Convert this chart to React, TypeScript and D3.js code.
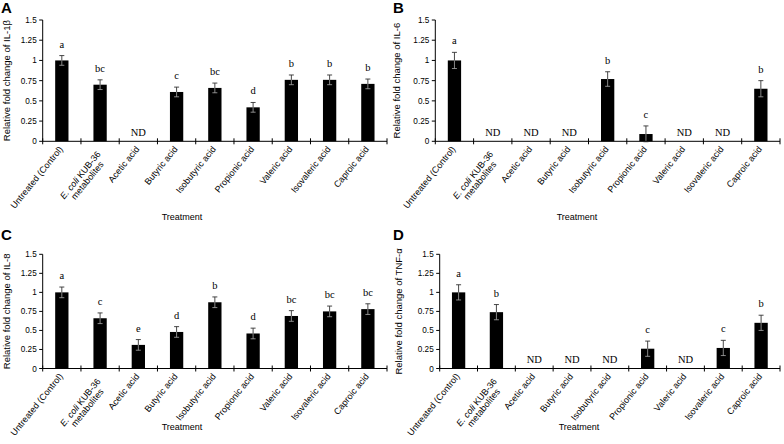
import React from "react";
import * as d3 from "d3";

const categories = [
  "Untreated (Control)",
  "E. coli KUB-36 metabolites",
  "Acetic acid",
  "Butyric acid",
  "Isobutyric acid",
  "Propionic acid",
  "Valeric acid",
  "Isovaleric acid",
  "Caproic acid",
];
const yTicks = [0, 0.25, 0.5, 0.75, 1, 1.25, 1.5];
const yTickLabels = ["0", "0.25", "0.5", "0.75", "1", "1.25", "1.5"];

// null = not detected (ND)
const il1bValues = [1.0, 0.7, null, 0.61, 0.66, 0.42, 0.76, 0.76, 0.71];
const il1bErrors = [0.06, 0.06, 0, 0.06, 0.06, 0.06, 0.06, 0.06, 0.06];
const il1bLetters = ["a", "bc", "ND", "c", "bc", "d", "b", "b", "b"];

const il6Values = [1.0, null, null, null, 0.77, 0.09, null, null, 0.65];
const il6Errors = [0.1, 0, 0, 0, 0.09, 0.1, 0, 0, 0.1];
const il6Letters = ["a", "ND", "ND", "ND", "b", "c", "ND", "ND", "b"];

const il8Values = [1.0, 0.66, 0.31, 0.48, 0.87, 0.46, 0.69, 0.75, 0.78];
const il8Errors = [0.07, 0.07, 0.07, 0.07, 0.07, 0.07, 0.07, 0.07, 0.07];
const il8Letters = ["a", "c", "e", "d", "b", "d", "bc", "bc", "bc"];

const tnfValues = [1.0, 0.74, null, null, null, 0.26, null, 0.27, 0.6];
const tnfErrors = [0.1, 0.1, 0, 0, 0, 0.1, 0, 0.1, 0.1];
const tnfLetters = ["a", "b", "ND", "ND", "ND", "c", "ND", "c", "b"];

const SANS = "'Liberation Sans', Arial, sans-serif";
const SERIF = "'Liberation Serif', 'Times New Roman', serif";

type PanelProps = {
  letter: string;
  letterX: number;
  letterY: number;
  yLabel: string;
  yLabelX: number;
  x0: number;
  x1: number;
  yTop: number;
  yBottom: number;
  treatX: number;
  treatY: number;
  values: (number | null)[];
  errors: number[];
  letters: string[];
};

function Panel(p: PanelProps) {
  const x = d3.scaleBand<string>().domain(categories).range([p.x0, p.x1]).paddingInner(0).paddingOuter(0);
  const y = d3.scaleLinear().domain([0, 1.5]).range([p.yBottom, p.yTop]);
  const bw = 13.3;
  const step = x.step();
  const y0 = y(0);
  const angle = -51;
  return (
    <g>
      <text x={p.letterX} y={p.letterY} fontFamily={SANS} fontWeight="bold" fontSize={15}>
        {p.letter}
      </text>
      <text
        transform={`translate(${p.yLabelX},${(y(0) + y(1.5)) / 2}) rotate(-90)`}
        textAnchor="middle"
        fontFamily={SANS}
        fontSize={9.5}
      >
        {p.yLabel}
      </text>
      {/* y axis */}
      <line x1={p.x0} x2={p.x0} y1={y(0)} y2={y(1.5)} stroke="#000" strokeWidth={1} />
      {yTicks.map((t, i) => (
        <g key={"yt" + i}>
          <line x1={p.x0 - 3.5} x2={p.x0} y1={y(t)} y2={y(t)} stroke="#000" />
          <text x={p.x0 - 6} y={y(t) + 3} textAnchor="end" fontFamily={SANS} fontSize={8.2}>
            {yTickLabels[i]}
          </text>
        </g>
      ))}
      {/* bars */}
      {categories.map((c, i) => {
        const v = p.values[i];
        const cx = (x(c) as number) + step / 2;
        if (v === null) return null;
        const e = p.errors[i];
        return (
          <g key={"b" + i}>
            <rect x={cx - bw / 2} y={y(v)} width={bw} height={y0 - y(v)} fill="#000" />
            <line x1={cx} x2={cx} y1={y(v - e)} y2={y(v)} stroke="#aaa" strokeWidth={0.8} />
            <line x1={cx - 2.5} x2={cx + 2.5} y1={y(v - e)} y2={y(v - e)} stroke="#aaa" strokeWidth={0.8} />
            <line x1={cx} x2={cx} y1={y(v)} y2={y(v + e)} stroke="#333" strokeWidth={0.9} />
            <line x1={cx - 2.5} x2={cx + 2.5} y1={y(v + e)} y2={y(v + e)} stroke="#333" strokeWidth={0.9} />
          </g>
        );
      })}
      {/* significance letters */}
      {categories.map((c, i) => {
        const v = p.values[i];
        const cx = (x(c) as number) + step / 2;
        const ty = v === null ? y0 - 5.5 : y(v + p.errors[i]) - 8;
        return (
          <text key={"l" + i} x={cx} y={ty} textAnchor="middle" fontFamily={SERIF} fontSize={10.5}>
            {p.letters[i]}
          </text>
        );
      })}
      {/* x axis */}
      <line x1={p.x0} x2={p.x1} y1={y0} y2={y0} stroke="#000" strokeWidth={1} />
      {d3.range(categories.length + 1).map((i) => (
        <line key={"xt" + i} x1={p.x0 + i * step} x2={p.x0 + i * step} y1={y0 - 3} y2={y0 + 3} stroke="#000" />
      ))}
      {categories.map((c, i) => {
        const cx = (x(c) as number) + step / 2;
        if (i === 1) {
          return (
            <text
              key={"xl" + i}
              transform={`translate(${cx + 1},${y0 + 13}) rotate(${angle})`}
              textAnchor="end"
              fontFamily={SANS}
              fontSize={9}
            >
              <tspan x={0} dy={0}>
                <tspan fontStyle="italic">E. coli</tspan> KUB-36
              </tspan>
              <tspan x={-6} dy={8.8}>metabolites</tspan>
            </text>
          );
        }
        return (
          <text
            key={"xl" + i}
            transform={`translate(${cx + 1.5},${y0 + 8}) rotate(${angle})`}
            textAnchor="end"
            fontFamily={SANS}
            fontSize={9}
          >
            {c}
          </text>
        );
      })}
      <text x={p.treatX} y={p.treatY} textAnchor="middle" fontFamily={SANS} fontSize={9}>
        Treatment
      </text>
    </g>
  );
}

export default function App() {
  return (
    <svg width={784} height={444} style={{ position: "absolute", left: 0, top: 0, background: "#fff" }}>
      <rect width={784} height={444} fill="#fff" />
      <Panel
        letter="A"
        letterX={1}
        letterY={13}
        yLabel="Relative fold change of IL-1β"
        yLabelX={10}
        x0={42.7}
        x1={387}
        yTop={20}
        yBottom={141.3}
        treatX={182}
        treatY={219.5}
        values={il1bValues}
        errors={il1bErrors}
        letters={il1bLetters}
      />
      <Panel
        letter="B"
        letterX={393}
        letterY={13}
        yLabel="Relative fold change of IL-6"
        yLabelX={400}
        x0={435.3}
        x1={780}
        yTop={20}
        yBottom={141.3}
        treatX={577}
        treatY={219.5}
        values={il6Values}
        errors={il6Errors}
        letters={il6Letters}
      />
      <Panel
        letter="C"
        letterX={1}
        letterY={240}
        yLabel="Relative fold change of IL-8"
        yLabelX={10}
        x0={42.7}
        x1={387}
        yTop={254.3}
        yBottom={368.5}
        treatX={182}
        treatY={430}
        values={il8Values}
        errors={il8Errors}
        letters={il8Letters}
      />
      <Panel
        letter="D"
        letterX={393}
        letterY={240}
        yLabel="Relative fold change  of  TNF-α"
        yLabelX={402}
        x0={439.7}
        x1={780}
        yTop={254.3}
        yBottom={368.5}
        treatX={579}
        treatY={430}
        values={tnfValues}
        errors={tnfErrors}
        letters={tnfLetters}
      />
    </svg>
  );
}
